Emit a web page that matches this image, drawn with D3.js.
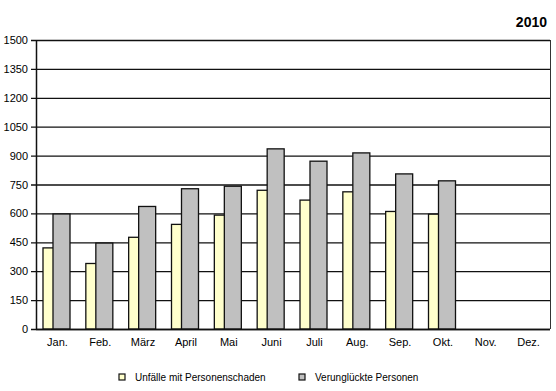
<!DOCTYPE html>
<html><head><meta charset="utf-8">
<script src="https://cdn.jsdelivr.net/npm/d3@7"></script>
<style>body{margin:0;background:#fff}svg{display:block}text{font-family:"Liberation Sans",Arial,sans-serif;fill:#000}</style>
</head><body><svg id="c" width="556" height="391"></svg>
<script>
const months = ["Jan.","Feb.","März","April","Mai","Juni","Juli","Aug.","Sep.","Okt.","Nov.","Dez."];
const unfaelle = [421,340,476,543,591,720,669,712,610,596,null,null];
const verunglueckte = [597,446,636,728,741,935,871,914,805,769,null,null];
const yTicks = [0,150,300,450,600,750,900,1050,1200,1350,1500];
const seriesNames = ["Unfälle mit Personenschaden","Verunglückte Personen"];
const colors = ["#FFFFCC","#C0C0C0"];

const svg = d3.select("#c");
const L=36, R=550, T=40, B=329;
const x = d3.scaleBand().domain(months).range([L,R]);
const y = d3.scaleLinear().domain([0,1500]).range([B,T]);

// gridlines
svg.append("g").selectAll("line").data(yTicks).join("line")
  .attr("x1",L-5).attr("x2",R).attr("y1",d=>y(d)+0.5).attr("y2",d=>y(d)+0.5)
  .attr("stroke","#111").attr("stroke-width",1.3);
// right border
svg.append("line").attr("x1",R+0.5).attr("x2",R+0.5).attr("y1",T).attr("y2",B)
  .attr("stroke","#333").attr("stroke-width",1);

// y labels
svg.append("g").selectAll("text").data(yTicks).join("text")
  .attr("x",L-8).attr("y",d=>y(d)+4).attr("text-anchor","end")
  .attr("font-size",11).text(d=>d);

const bw = x.bandwidth();
const yOff = 7, yW = 17, gOff = 17, gW = 17;
months.forEach((m,i)=>{
  if(unfaelle[i]!=null){
    svg.append("rect").attr("x",x(m)+yOff).attr("y",y(unfaelle[i])).attr("width",yW)
      .attr("height",B-y(unfaelle[i])).attr("fill",colors[0]).attr("stroke","#111").attr("stroke-width",1.3);
  }
  if(verunglueckte[i]!=null){
    svg.append("rect").attr("x",x(m)+gOff).attr("y",y(verunglueckte[i])).attr("width",gW)
      .attr("height",B-y(verunglueckte[i])).attr("fill",colors[1]).attr("stroke","#111").attr("stroke-width",1.3);
  }
});

// axes lines
svg.append("line").attr("x1",L+0.5).attr("x2",L+0.5).attr("y1",T).attr("y2",B+0.5)
  .attr("stroke","#111").attr("stroke-width",1.5);
svg.append("line").attr("x1",L).attr("x2",R).attr("y1",B+0.5).attr("y2",B+0.5)
  .attr("stroke","#111").attr("stroke-width",1.5);

// x labels
svg.append("g").selectAll("text").data(months).join("text")
  .attr("x",d=>x(d)+bw/2).attr("y",B+17).attr("text-anchor","middle")
  .attr("font-size",11).text(d=>d);

// title
svg.append("text").attr("x",547).attr("y",27).attr("text-anchor","end")
  .attr("font-size",14).attr("font-weight","bold").text("2010");

// legend
const lx=[119,299], tx=[135,315];
seriesNames.forEach((n,i)=>{
  svg.append("rect").attr("x",lx[i]).attr("y",374).attr("width",6).attr("height",6)
    .attr("fill",colors[i]).attr("stroke","#111").attr("stroke-width",1.2);
  svg.append("text").attr("x",tx[i]).attr("y",381).attr("font-size",10).text(n);
});
</script></body></html>
